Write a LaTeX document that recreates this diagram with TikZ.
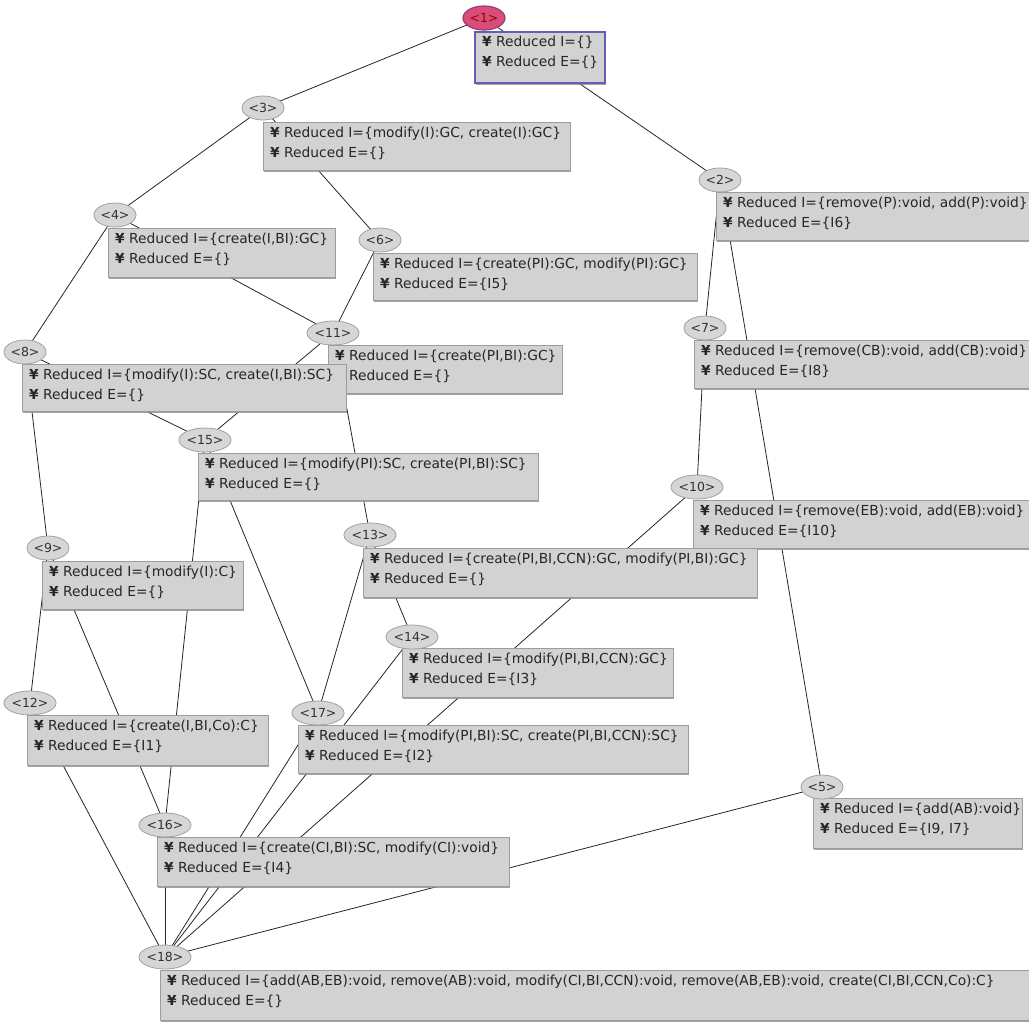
\documentclass[tikz,border=0pt]{standalone}
\usepackage{fontspec}
\setmainfont{DejaVu Sans}
\usetikzlibrary{shapes.geometric,backgrounds,shadows}
\definecolor{boxgray}{HTML}{D2D2D2}
\definecolor{boxline}{HTML}{9C9C9C}
\definecolor{ellgray}{HTML}{D6D6D6}
\definecolor{ellline}{HTML}{A0A0A0}
\definecolor{rootfill}{HTML}{D94E78}
\definecolor{rootline}{HTML}{9A3A80}
\definecolor{rootbox}{HTML}{6060B8}
\newcommand\yb{{\bfseries ¥}}
\tikzset{
  lab/.style={ellipse, draw=ellline, fill=ellgray, line width=0.8pt,
    minimum width=42pt, minimum height=24pt, inner sep=0pt,
    font=\fontsize{12.5}{14}\selectfont, text=black!80},
  rootlab/.style={lab, fill=rootfill, draw=rootline, line width=1.2pt, text=red!60!black},
  box/.style={rectangle, anchor=north west, draw=boxline, fill=boxgray,
    line width=0.6pt, inner sep=0pt,
    drop shadow={shadow xshift=0.8pt, shadow yshift=-1.6pt, fill=black!45, opacity=0.8}},
  rootboxst/.style={box, draw=rootbox, line width=1.8pt},
  boxtext/.style={anchor=north west, align=left, inner sep=0pt,
    font=\fontsize{13.8}{20}\selectfont, text=black!85},
  edge/.style={draw=black!85, line width=0.8pt}
}
% name, ellipse x, ellipse y, box x, box y, box w, box h, line1, line2
\newcommand\mkn[9]{%
  \node[box, minimum width=#6pt, minimum height=#7pt] (b#1) at (#4,#5) {};
  \node[boxtext] (t#1) at ([xshift=7pt,yshift=-5pt]b#1.north west) {#8\\#9};
  \node[lab] (e#1) at (#2,#3) {<#1>};
}
\begin{document}
\begin{tikzpicture}[x=1pt,y=-1pt]
\useasboundingbox (0,0) rectangle (1029,1021);
% root
\node[rootboxst, minimum width=130pt, minimum height=51pt] (b1) at (474,31) {};
\node[boxtext] (t1) at ([xshift=8pt,yshift=-5pt]b1.north west) {\yb\ Reduced I=\{\}\\\yb\ Reduced E=\{\}};
\node[rootlab] (e1) at (484,18) {<1>};
\mkn{3}{263}{108}{263}{122}{307}{48}{\yb\ Reduced I=\{modify(I):GC, create(I):GC\}}{\yb\ Reduced E=\{\}}
\mkn{2}{720}{180}{716}{192}{317}{48}{\yb\ Reduced I=\{remove(P):void, add(P):void\}}{\yb\ Reduced E=\{I6\}}
\mkn{4}{115}{215}{108}{228}{227}{49}{\yb\ Reduced I=\{create(I,BI):GC\}}{\yb\ Reduced E=\{\}}
\mkn{6}{380}{240}{373}{253}{324}{47}{\yb\ Reduced I=\{create(PI):GC, modify(PI):GC\}}{\yb\ Reduced E=\{I5\}}
\mkn{11}{333}{333}{328}{345}{234}{48}{\yb\ Reduced I=\{create(PI,BI):GC\}}{\phantom{\yb\ }Reduced E=\{\}}
\mkn{8}{25}{352}{22}{364}{324}{47}{\yb\ Reduced I=\{modify(I):SC, create(I,BI):SC\}}{\yb\ Reduced E=\{\}}
\mkn{7}{705}{328}{694}{340}{340}{48}{\yb\ Reduced I=\{remove(CB):void, add(CB):void\}}{\yb\ Reduced E=\{I8\}}
\mkn{15}{205}{440}{198}{453}{340}{47}{\yb\ Reduced I=\{modify(PI):SC, create(PI,BI):SC\}}{\yb\ Reduced E=\{\}}
\mkn{10}{697}{487}{693}{500}{340}{48}{\yb\ Reduced I=\{remove(EB):void, add(EB):void\}}{\yb\ Reduced E=\{I10\}}
\mkn{13}{370}{535}{363}{548}{394}{49}{\yb\ Reduced I=\{create(PI,BI,CCN):GC, modify(PI,BI):GC\}}{\yb\ Reduced E=\{\}}
\mkn{9}{48}{548}{42}{561}{201}{48}{\yb\ Reduced I=\{modify(I):C\}}{\yb\ Reduced E=\{\}}
\mkn{14}{412}{637}{402}{648}{271}{49}{\yb\ Reduced I=\{modify(PI,BI,CCN):GC\}}{\yb\ Reduced E=\{I3\}}
\mkn{12}{30}{703}{27}{715}{241}{50}{\yb\ Reduced I=\{create(I,BI,Co):C\}}{\yb\ Reduced E=\{I1\}}
\mkn{17}{318}{713}{298}{725}{390}{48}{\yb\ Reduced I=\{modify(PI,BI):SC, create(PI,BI,CCN):SC\}}{\yb\ Reduced E=\{I2\}}
\mkn{5}{822}{787}{813}{798}{209}{50}{\yb\ Reduced I=\{add(AB):void\}}{\yb\ Reduced E=\{I9, I7\}}
\mkn{16}{165}{825}{157}{837}{352}{49}{\yb\ Reduced I=\{create(CI,BI):SC, modify(CI):void\}}{\yb\ Reduced E=\{I4\}}
\mkn{18}{165}{957}{160}{970}{875}{50}{\yb\ Reduced I=\{add(AB,EB):void, remove(AB):void, modify(CI,BI,CCN):void, remove(AB,EB):void, create(CI,BI,CCN,Co):C\}}{\yb\ Reduced E=\{\}}
\begin{pgfonlayer}{background}
\fill[white] (0,0) rectangle (1029,1021);
\foreach \a/\b in {1/3,1/2,3/4,3/6,4/8,4/11,6/11,8/9,8/15,11/15,11/13,2/7,2/5,7/10,10/18,9/12,9/16,15/16,15/17,13/17,13/14,14/18,17/18,12/18,16/18,5/18}
  \draw[edge] (e\a.center) -- (e\b.center);
\end{pgfonlayer}
\end{tikzpicture}
\end{document}
